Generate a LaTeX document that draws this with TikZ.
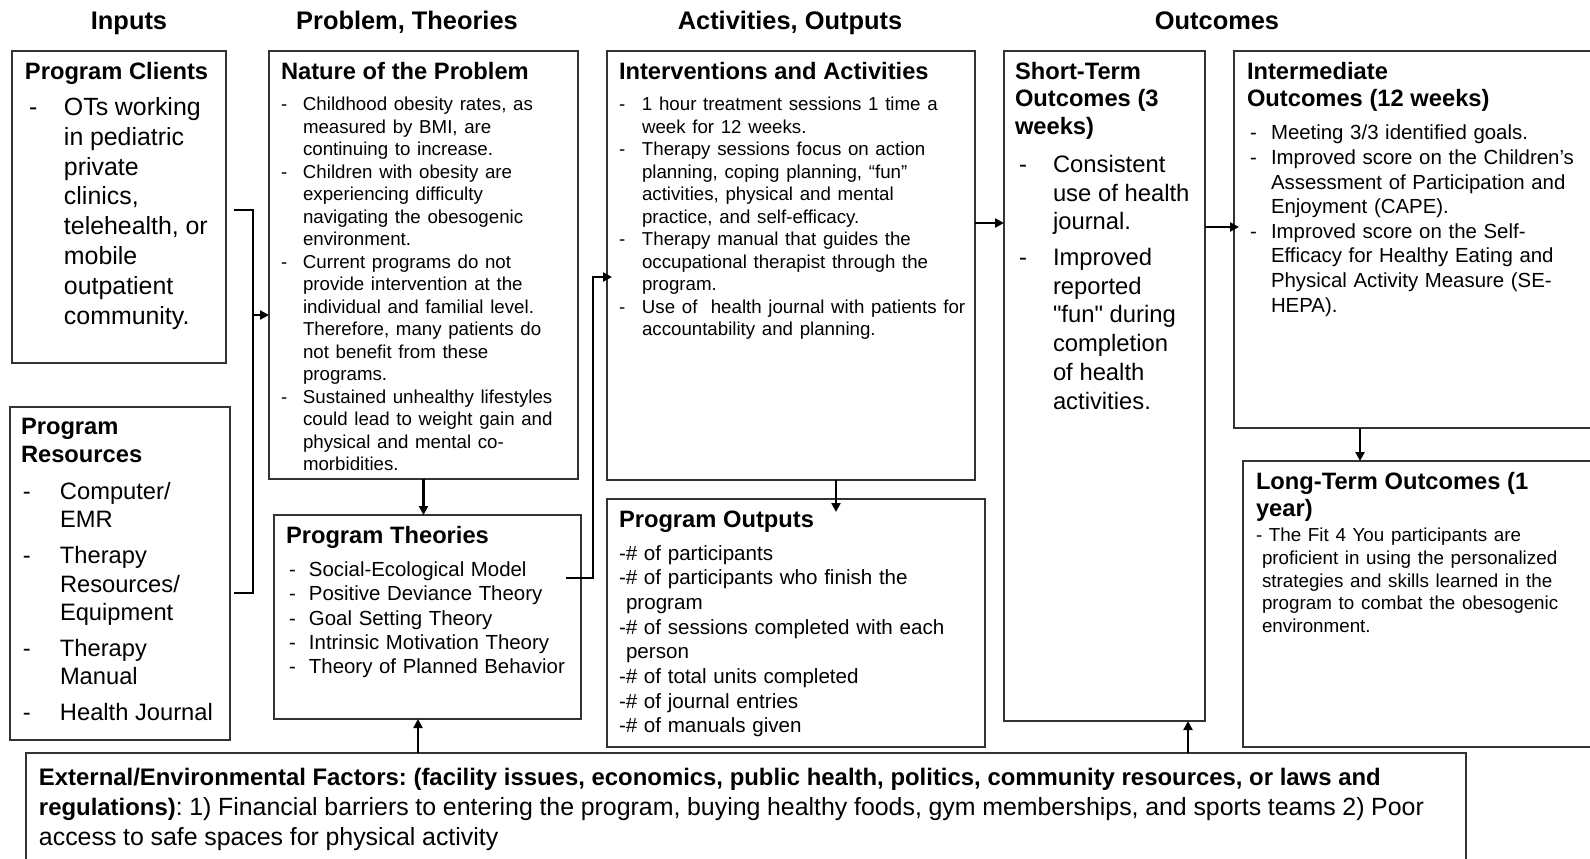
\documentclass[tikz,border=0pt]{standalone}
\usepackage{fontspec}
\setmainfont{Liberation Sans}[Ligatures=TeXOff]
\usetikzlibrary{arrows.meta,calc,positioning}
\frenchspacing

% bold heading line inside a box
\newcommand{\boxtitle}[1]{{\fontsize{11.85pt}{13.9pt}\selectfont\bfseries #1\par}}
% dashed list entry: [dash offset]{hanging indent}{text}
\newcommand{\dashitem}[3][0pt]{\par\noindent\hangindent=#2\hangafter=1\makebox[#2][l]{\hspace{#1}-}#3\par}
% plain entry with a small hanging indent
\newcommand{\hangline}[2]{\par\noindent\hangindent=#1\hangafter=1 #2\par}
\newcommand{\bodysize}[2]{\fontsize{#1}{#2}\selectfont}

\begin{document}
\begin{tikzpicture}[x=0.5pt, y=-0.5pt,
  every node/.style={inner sep=0pt, outer sep=0pt},
  box/.style={draw=black!80, line width=0.9pt, anchor=north west},
  txt/.style={anchor=north west, align=left, text width=#1},
  colhead/.style={anchor=base, font=\fontsize{12.7pt}{15pt}\selectfont\bfseries},
  link/.style={line width=1.4pt},
  arr/.style={link, -{Triangle[length=4.5pt, width=4.5pt]}}]

\useasboundingbox (0,0) rectangle (1590,858);
\fill[white] (0,0) rectangle (1590,858);
\clip (0,0) rectangle (1590,858);

% column headings
\node[colhead] (hInputs) at (129,29) {Inputs};
\node[colhead] (hProblem) at (407,29) {Problem, Theories};
\node[colhead] (hActs) at (790,29) {Activities, Outputs};
\node[colhead] (hOutcomes) at (1217,29) {Outcomes};

% frames
\node[box, minimum width=107pt, minimum height=156pt] (clients) at (12,51) {};
\node[box, minimum width=110pt, minimum height=166.5pt] (resources) at (10,407) {};
\node[box, minimum width=154.5pt, minimum height=214pt] (nature) at (269,51) {};
\node[box, minimum width=153.5pt, minimum height=102pt] (theories) at (274,515) {};
\node[box, minimum width=184pt, minimum height=214.5pt] (acts) at (607,51) {};
\node[box, minimum width=189pt, minimum height=124pt] (outputs) at (607,499) {};
\node[box, minimum width=100.5pt, minimum height=335pt] (shortterm) at (1004,51) {};
\node[box, minimum width=190pt, minimum height=188.5pt] (midterm) at (1234,51) {};
\node[box, minimum width=185pt, minimum height=143pt] (longterm) at (1243,461) {};
\node[box, minimum width=720pt, minimum height=60pt] (external) at (26,753) {};

% inputs
\node[txt=100pt] (clientsTxt) at ($(clients.north west)+(13,11)$) {%
  \boxtitle{Program Clients}\vspace{3.1pt}
  \bodysize{12.45pt}{14.95pt}%
  \dashitem[2pt]{19.5pt}{OTs working\newline in pediatric\newline private\newline clinics,\newline telehealth, or\newline mobile\newline outpatient\newline community.}};

\node[txt=104pt] (resourcesTxt) at ($(resources.north west)+(11,11)$) {%
  \boxtitle{Program\newline Resources}\vspace{0.8pt}
  \bodysize{11.85pt}{14.3pt}\setlength{\parskip}{3.5pt}%
  \dashitem[1pt]{19.5pt}{Computer/\newline EMR}
  \dashitem[1pt]{19.5pt}{Therapy\newline Resources/\newline Equipment}
  \dashitem[1pt]{19.5pt}{Therapy\newline Manual}
  \dashitem[1pt]{19.5pt}{Health Journal}};

% problem and theories
\node[txt=150pt] (natureTxt) at ($(nature.north west)+(12,11)$) {%
  \boxtitle{Nature of the Problem}\vspace{4.5pt}
  \bodysize{9.35pt}{11.25pt}%
  \dashitem{11pt}{Childhood obesity rates, as\newline measured by BMI, are\newline continuing to increase.}
  \dashitem{11pt}{Children with obesity are\newline experiencing difficulty\newline navigating the obesogenic\newline environment.}
  \dashitem{11pt}{Current programs do not\newline provide intervention at the\newline individual and familial level.\newline Therefore, many patients do\newline not benefit from these\newline programs.}
  \dashitem{11pt}{Sustained unhealthy lifestyles\newline could lead to weight gain and\newline physical and mental co-\newline morbidities.}};

\node[txt=150pt] (theoriesTxt) at ($(theories.north west)+(12,11)$) {%
  \boxtitle{Program Theories}\vspace{4.4pt}
  \bodysize{10.2pt}{12.2pt}%
  \dashitem[1.5pt]{11.5pt}{Social-Ecological Model}
  \dashitem[1.5pt]{11.5pt}{Positive Deviance Theory}
  \dashitem[1.5pt]{11.5pt}{Goal Setting Theory}
  \dashitem[1.5pt]{11.5pt}{Intrinsic Motivation Theory}
  \dashitem[1.5pt]{11.5pt}{Theory of Planned Behavior}};

% activities and outputs
\node[txt=180pt] (actsTxt) at ($(acts.north west)+(12,11)$) {%
  \boxtitle{Interventions and Activities}\vspace{4.5pt}
  \bodysize{9.35pt}{11.25pt}%
  \dashitem{11.5pt}{1 hour treatment sessions 1 time a\newline week for 12 weeks.}
  \dashitem{11.5pt}{Therapy sessions focus on action\newline planning, coping planning, “fun”\newline activities, physical and mental\newline practice, and self-efficacy.}
  \dashitem{11.5pt}{Therapy manual that guides the\newline occupational therapist through the\newline program.}
  \dashitem{11.5pt}{Use of~ health journal with patients for\newline accountability and planning.}};

\node[txt=182pt] (outputsTxt) at ($(outputs.north west)+(12,12)$) {%
  \boxtitle{Program Outputs}\vspace{3.9pt}
  \bodysize{10.3pt}{12.35pt}%
  \hangline{3.5pt}{-\# of participants}
  \hangline{3.5pt}{-\# of participants who finish the\newline program}
  \hangline{3.5pt}{-\# of sessions completed with each\newline person}
  \hangline{3.5pt}{-\# of total units completed}
  \hangline{3.5pt}{-\# of journal entries}
  \hangline{3.5pt}{-\# of manuals given}};

% outcomes
\node[txt=96pt] (shorttermTxt) at ($(shortterm.north west)+(11,11)$) {%
  \boxtitle{Short-Term\newline Outcomes (3\newline weeks)}\vspace{1.05pt}
  \bodysize{11.9pt}{14.4pt}\setlength{\parskip}{3.3pt}%
  \dashitem[2pt]{19pt}{Consistent\newline use of health\newline journal.}
  \dashitem[2pt]{19pt}{Improved\newline reported\newline "fun" during\newline completion\newline of health\newline activities.}};

\node[txt=175pt] (midtermTxt) at ($(midterm.north west)+(13,11)$) {%
  \boxtitle{Intermediate\newline Outcomes (12 weeks)}\vspace{4.2pt}
  \bodysize{10.2pt}{12.3pt}%
  \dashitem[1.5pt]{12pt}{Meeting 3/3 identified goals.}
  \dashitem[1.5pt]{12pt}{Improved score on the Children’s\newline Assessment of Participation and\newline Enjoyment (CAPE).}
  \dashitem[1.5pt]{12pt}{Improved score on the Self-\newline Efficacy for Healthy Eating and\newline Physical Activity Measure (SE-\newline HEPA).}};

\node[txt=175pt] (longtermTxt) at ($(longterm.north west)+(13,11)$) {%
  \boxtitle{Long-Term Outcomes (1\newline year)}\vspace{1pt}
  \bodysize{9.4pt}{11.35pt}%
  \hangline{3pt}{- The Fit 4 You participants are\newline proficient in using the personalized\newline strategies and skills learned in the\newline program to combat the obesogenic\newline environment.}};

% external factors
\node[txt=715pt] (externalTxt) at ($(external.north west)+(13,15)$) {%
  \bodysize{12.45pt}{15pt}%
  {\fontsize{11.95pt}{15pt}\selectfont\bfseries External/Environmental Factors: (facility issues, economics, public health, politics, community resources, or laws and\newline
  regulations)}: 1) Financial barriers to entering the program, buying healthy foods, gym memberships, and sports teams 2) Poor\newline
  access to safe spaces for physical activity\par};

% connectors
\coordinate (joint) at ($(clients.north east)+(27,264)$);
\draw[link] ($(clients.north east)+(8,159)$) -| (joint) |- ($(resources.north east)+(4,186)$);
\draw[arr] (joint) -- (nature.west |- joint);
\draw[arr] (nature.south) -- (nature.south |- theories.north);
\draw[arr] ($(theories.north east)+(-15,63)$) -- ++(27,0) |- ($(acts.north west)+(5,226)$);
\draw[arr] ($(acts.south)+(45,0)$) -- ($(outputs.north)+(40,13)$);
\draw[arr] ($(acts.north east)+(0,172)$) -- ($(shortterm.north west)+(0,172)$);
\draw[arr] ($(shortterm.north east)+(0,176)$) -- ($(midterm.north west)+(5,176)$);
\draw[arr] ($(midterm.south west)+(126,0)$) -- ($(longterm.north west)+(117,0)$);
\draw[arr] ($(external.north west)+(392,0)$) -- ($(theories.south west)+(144,0)$);
\draw[arr] ($(external.north west)+(1162,0)$) -- ($(shortterm.south west)+(184,0)$);
\end{tikzpicture}
\end{document}
